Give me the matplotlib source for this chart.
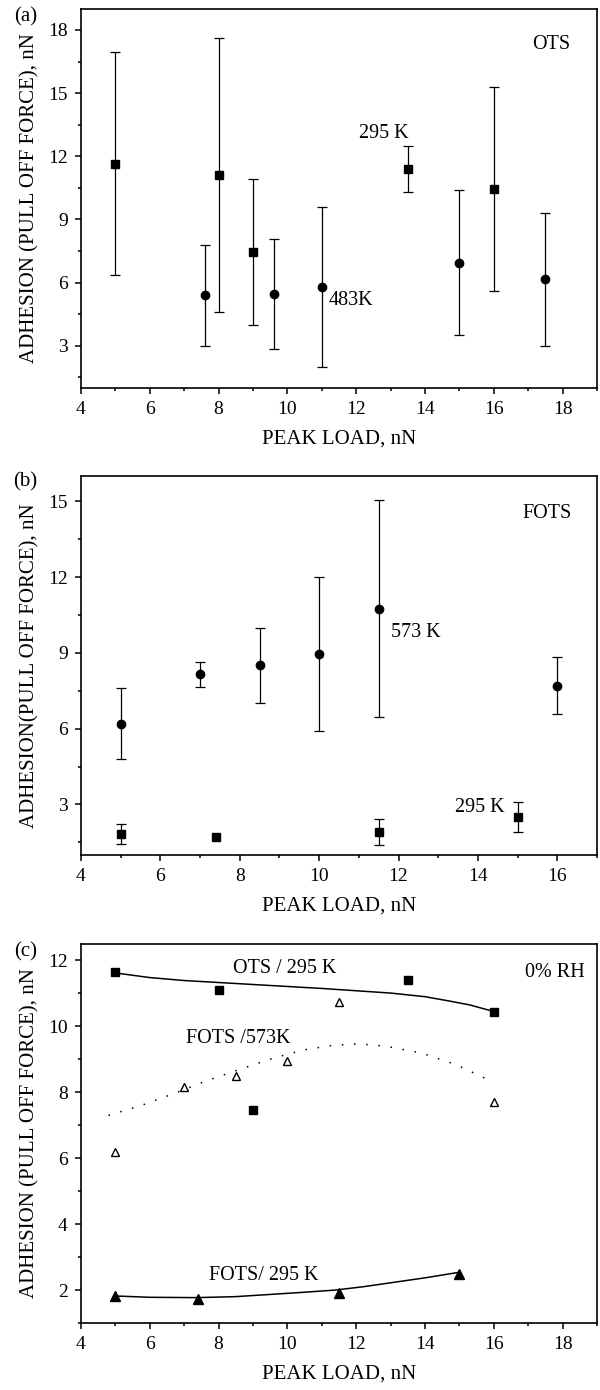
import numpy as np
import matplotlib
matplotlib.use("Agg")
import matplotlib.pyplot as plt
from matplotlib.ticker import MultipleLocator

plt.rcParams['font.family'] = ['Liberation Serif', 'DejaVu Serif']

# (a) OTS, error bars symmetric
ots295_x = [5, 8, 9, 13.5, 16]
ots295_y = [11.65, 11.1, 7.45, 11.4, 10.45]
ots295_err = [5.3, 6.5, 3.45, 1.1, 4.85]

ots483_x = [7.6, 9.6, 11, 15, 17.5]
ots483_y = [5.4, 5.45, 5.8, 6.95, 6.15]
ots483_err = [2.4, 2.6, 3.8, 3.45, 3.18]

# (b) FOTS
fots573_x = [5, 7, 8.5, 10, 11.5, 16]
fots573_y = [6.2, 8.15, 8.5, 8.95, 10.75, 7.7]
fots573_err = [1.4, 0.5, 1.5, 3.05, 4.3, 1.13]

fots295_x = [5, 7.4, 11.5, 15]
fots295_y = [1.82, 1.72, 1.9, 2.5]
fots295_err = [0.39, np.nan, 0.51, 0.61]

# (c) trend curves
ots_fit_x = [5, 6, 7, 8, 9, 10, 11, 12, 13, 14, 14.7, 15.3, 16]
ots_fit_y = [11.62, 11.48, 11.39, 11.33, 11.27, 11.21, 11.15, 11.08, 11.01, 10.9, 10.77, 10.65, 10.45]

f573_fit_x = [4.8, 5.7, 6.7, 7.6, 8.6, 9.6, 10.5, 11.3, 12.1, 12.9, 13.9, 14.9, 16.0]
f573_fit_y = [7.3, 7.58, 7.96, 8.33, 8.69, 9.04, 9.29, 9.42, 9.47, 9.39, 9.19, 8.84, 8.3]

f295_fit_x = [5, 6, 7.35, 8.5, 9.1, 10.3, 11.4, 12.2, 13.0, 14.0, 15.0]
f295_fit_y = [1.82, 1.78, 1.77, 1.8, 1.84, 1.92, 2.0, 2.1, 2.22, 2.37, 2.54]

FS_TICK = 14
FS_LAB = 15
FS_TXT = 14.5


def style_axes(ax, xlim, ylim, ymaj, ymin):
    ax.set_xlim(*xlim)
    ax.set_ylim(*ylim)
    ax.xaxis.set_major_locator(MultipleLocator(2))
    ax.xaxis.set_minor_locator(MultipleLocator(1))
    ax.yaxis.set_major_locator(MultipleLocator(ymaj))
    ax.yaxis.set_minor_locator(MultipleLocator(ymin))
    ax.tick_params(which='both', direction='out', top=False, right=False,
                   labelsize=FS_TICK, width=1.1)
    ax.tick_params(which='major', length=4.5, pad=5)
    ax.tick_params(which='minor', length=2.5)
    for s in ax.spines.values():
        s.set_linewidth(1.2)
    ax.set_xlabel('PEAK LOAD, nN', fontsize=FS_LAB, labelpad=8)


fig = plt.figure(figsize=(6, 13.9), dpi=100)
L, W, H = 0.135, 0.86, 0.2727
ax1 = fig.add_axes([L, 0.7209, W, H])
ax2 = fig.add_axes([L, 0.3849, W, H])
ax3 = fig.add_axes([L, 0.0482, W, H])

eb = dict(color='black', ecolor='black', elinewidth=0.9, capsize=3.4, capthick=0.9, linestyle='none')

# (a)
ax1.errorbar(ots295_x, ots295_y, yerr=ots295_err, marker='s', ms=5.2, **eb)
ax1.errorbar(ots483_x, ots483_y, yerr=ots483_err, marker='o', ms=6, **eb)
style_axes(ax1, (4, 19), (1, 19), 3, 1.5)
ax1.set_ylabel('ADHESION (PULL OFF FORCE), nN', fontsize=FS_LAB, labelpad=6)
ax1.text(17.68, 17.3, 'OTS', fontsize=FS_TXT, ha='center', va='center')
ax1.text(12.8, 13.1, '295 K', fontsize=FS_TXT, ha='center', va='center')
ax1.text(11.2, 5.16, '483K', fontsize=FS_TXT, ha='left', va='center')

# (b)
ax2.errorbar(fots573_x, fots573_y, yerr=fots573_err, marker='o', ms=6, **eb)
ax2.errorbar(fots295_x, fots295_y, yerr=fots295_err, marker='s', ms=5.2, **eb)
style_axes(ax2, (4, 17), (1, 16), 3, 1.5)
ax2.set_ylabel('ADHESION(PULL OFF FORCE), nN', fontsize=FS_LAB, labelpad=6)
ax2.text(15.74, 14.5, 'FOTS', fontsize=FS_TXT, ha='center', va='center')
ax2.text(12.43, 9.81, '573 K', fontsize=FS_TXT, ha='center', va='center')
ax2.text(14.04, 2.88, '295 K', fontsize=FS_TXT, ha='center', va='center')

# (c)
ax3.plot(ots_fit_x, ots_fit_y, color='black', lw=1.1)
ax3.plot(f573_fit_x, f573_fit_y, color='black', lw=1.1, linestyle=(0, (1, 7)))
ax3.plot(f295_fit_x, f295_fit_y, color='black', lw=1.1)
ax3.plot(ots295_x, ots295_y, 's', color='black', ms=5.2, linestyle='none')
ax3.plot(fots573_x, fots573_y, '^', mfc='white', mec='black', mew=1.0, ms=6.3, linestyle='none')
ax3.plot(fots295_x, fots295_y, '^', color='black', ms=7, linestyle='none')
style_axes(ax3, (4, 19), (1, 12.5), 2, 1)
ax3.set_ylabel('ADHESION (PULL OFF FORCE), nN', fontsize=FS_LAB, labelpad=6)
ax3.text(9.93, 11.75, 'OTS / 295 K', fontsize=FS_TXT, ha='center', va='center')
ax3.text(8.57, 9.62, 'FOTS /573K', fontsize=FS_TXT, ha='center', va='center')
ax3.text(17.77, 11.64, '0% RH', fontsize=FS_TXT, ha='center', va='center')
ax3.text(9.3, 2.45, 'FOTS/ 295 K', fontsize=FS_TXT, ha='center', va='center')

for lbl, yy in [('(a)', 0.988), ('(b)', 0.6535), ('(c)', 0.3154)]:
    fig.text(0.042, yy, lbl, fontsize=FS_LAB, ha='center', va='center')

fig.savefig('out.png', dpi=100)
